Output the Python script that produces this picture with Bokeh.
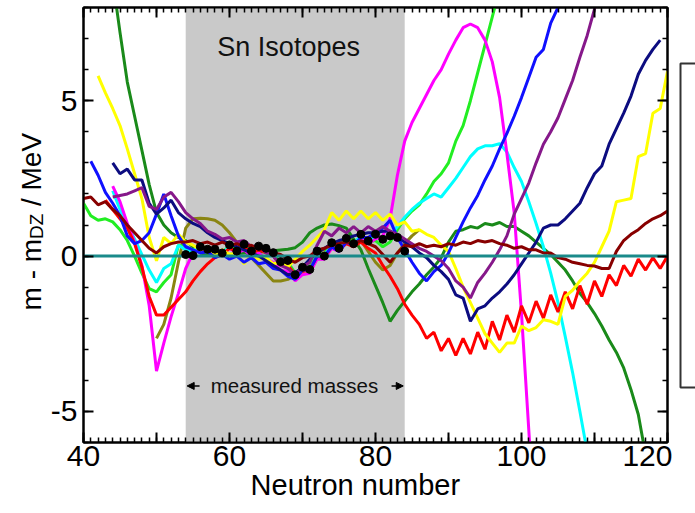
import math
from bokeh.plotting import figure
from bokeh.layouts import row
from bokeh.models import (Range1d, FixedTicker, LinearAxis, BoxAnnotation, Label,
                          Arrow, NormalHead)
from bokeh.embed import file_html
from bokeh.resources import INLINE
from bokeh.core.properties import value

# ---------------- data ----------------
meas_n = list(range(54, 85))
meas_v = [0.05, 0.02, 0.30, 0.22, 0.22, 0.10, 0.36, 0.16, 0.38, 0.16, 0.32, 0.25, 0.11,
          -0.18, -0.14, -0.60, -0.36, -0.43, 0.16, 0.00, 0.43, 0.25, 0.57, 0.40, 0.70,
          0.49, 0.70, 0.54, 0.65, 0.60, 0.16]

dkgreen_n = list(range(44, 59)) + [60, 62, 64, 66, 68] + list(range(69, 118))
dkgreen_v = [8.9, 7.2, 5.6, 4.5, 3.4, 2.3, 1.4, 1.0, 0.75, 0.6, 0.5, 0.3, 0.1, 0.05, 0.02,
             0.05, 0.1, 0.12, 0.17, 0.22,
             0.27, 0.45, 0.75, 0.9, 1.0, 1.03, 0.98, 0.9, 0.55, 0.2, -0.4, -0.95, -1.5, -2.1,
             -1.75, -1.45, -1.15, -0.9, -0.6, -0.35, -0.05, 0.45, 0.8, 0.85, 0.95, 0.9, 1.05,
             1.0, 1.08, 0.95, 0.95, 0.8, 0.65, 0.45, 0.25, 0.05, -0.2, -0.45, -0.8, -1.2, -1.5,
             -1.85, -2.25, -2.7, -3.1, -3.6, -4.3, -5.1, -6.4]

yellow_n = list(range(42, 121))
yellow_v = [5.8, 5.25, 4.75, 4.2, 3.45, 2.65, 1.85, 0.6, -0.15, 0.6,
            0.4, 0.7, 0.45, 0.35, 0.2, 0.3, 0.05, 0.2, 0.05, 0.1,
            -0.25, 0.05, -0.1, -0.05, -0.25, -0.2, -0.35, -0.1, 0.15, 0.35,
            0.6, 0.85, 1.4, 1.15, 1.45, 1.2, 1.45, 1.2, 1.4, 1.15,
            1.35, 1.0, 1.1, 0.8, 0.85, 0.7, 0.6, 0.35, 0.15, -0.4,
            -1.0, -1.5, -2.0, -2.5, -2.8, -3.1, -2.8, -2.8, -2.25, -2.4,
            -2.3, -2.05, -2.1, -2.2, -1.3, -1.1, -0.8, -0.55, -0.2, 0.3,
            0.8, 1.75, 1.8, 1.85, 3.2, 3.3, 4.6, 4.75, 5.95]

magenta_n = list(range(44, 103))
magenta_v = [2.25, 1.75, 1.05, 0.45, -0.3, -1.6, -3.7, -2.8, -1.95, -1.2,
             -0.4, 0.1, 0.2, 0.15, 0.15, 0.05, 0.25, 0.1, 0.2, 0.0,
             0.1, -0.1, -0.2, -0.45, -0.5, -0.8, -0.6, -0.55, -0.1, -0.1,
             0.25, 0.15, 0.45, 0.3, 0.55, 0.4, 0.55, 0.65, 1.2, 2.6,
             3.7, 4.3, 4.75, 5.2, 5.65, 6.0, 6.5, 6.95, 7.35, 7.47,
             7.35, 6.95, 6.25, 5.1, 3.3, 1.4, -1.85, -5.6, -9.4]

cyan_n = list(range(44, 110))
cyan_v = [2.1, 1.5, 1.0, 0.55, 0.05, -0.45, -0.85, -0.4, -0.25, 0.35,
          0.2, 0.15, 0.35, 0.2, 0.25, 0.1, 0.3, 0.1, 0.3, 0.1,
          0.25, 0.15, 0.0, -0.3, -0.3, -0.65, -0.45, -0.45, 0.05, 0.0,
          0.35, 0.25, 0.5, 0.4, 0.65, 0.5, 0.65, 0.55, 0.65, 0.95,
          1.25, 1.5, 1.7, 1.85, 2.0, 1.9, 2.2, 2.5, 2.85, 3.2,
          3.45, 3.55, 3.55, 3.62, 3.35, 2.85, 2.4, 1.75, 1.05, 0.3,
          -0.55, -1.5, -2.6, -3.75, -5.0, -6.3]

lime_n = list(range(40, 98))
lime_v = [1.7, 1.3, 1.15, 1.2, 1.1, 0.85, 0.5, 0.0, -0.55, -1.05,
          -1.15, -0.85, -0.6, 0.35, 0.3, 0.2, 0.3, 0.15, 0.2, 0.1,
          0.35, 0.2, 0.4, 0.2, 0.3, 0.2, 0.05, -0.2, -0.2, -0.55,
          -0.35, -0.35, 0.1, 0.05, 0.4, 0.3, 0.55, 0.45, 0.6, 0.45,
          0.5, 0.3, 0.45, 0.85, 1.2, 1.45, 1.65, 2.0, 2.4, 2.65,
          3.0, 3.7, 4.2, 5.0, 5.9, 6.8, 7.7, 8.6]

red_n = list(range(43, 121))
red_v = [1.8, 1.5, 1.2, 0.9, 0.4, -0.35, -1.3, -1.9, -1.9, -1.65,
         -1.4, -1.15, -0.8, -0.5, -0.25, -0.05, 0.05, 0.25, 0.15, 0.3,
         0.1, 0.2, 0.1, 0.0, -0.3, -0.3, -0.6, -0.5, -0.45, 0.0,
         -0.05, 0.3, 0.2, 0.4, 0.3, 0.45, 0.25, 0.1, -0.3, -0.65,
         -1.05, -1.55, -1.9, -2.2, -2.65, -2.45, -3.05, -2.65, -3.2, -2.65,
         -3.15, -2.45, -3.0, -2.1, -2.7, -1.9, -2.45, -1.6, -2.15, -1.45,
         -2.0, -1.25, -1.8, -1.15, -1.7, -0.95, -1.55, -0.8, -1.3, -0.6,
         -0.95, -0.3, -0.65, -0.1, -0.45, -0.05, -0.4, 0.0]

maroon_n = list(range(40, 121))
maroon_v = [1.85, 1.9, 1.65, 1.75, 1.5, 1.3, 1.0, 0.75, 0.5, 0.25,
            0.1, 0.3, 0.4, 0.45, 0.45, 0.5, 0.4, 0.45, 0.35, 0.45,
            0.35, 0.4, 0.3, 0.35, 0.2, 0.25, 0.1, 0.05, -0.1, -0.2,
            -0.05, 0.0, 0.2, 0.25, 0.35, 0.4, 0.45, 0.4, 0.5, 0.4,
            0.3, 0.05, -0.2, 0.1, 0.35, 0.3, 0.4, 0.3, 0.35, 0.3,
            0.4, 0.35, 0.45, 0.4, 0.5, 0.45, 0.5, 0.4, 0.35, 0.25,
            0.3, 0.2, 0.2, 0.1, 0.1, -0.05, -0.1, -0.2, -0.25, -0.3,
            -0.32, -0.4, -0.4, 0.15, 0.5, 0.7, 0.85, 1.05, 1.2, 1.3,
            1.45]

blue_n = list(range(41, 107))
blue_v = [3.05, 2.6, 2.05, 1.7, 1.3, 0.65, 0.4, 0.5, 0.75, 1.35,
          2.0, 1.3, 0.65, 0.3, 0.2, 0.1, 0.15, -0.05, 0.05, -0.1,
          0.0, -0.2, -0.05, -0.25, -0.2, -0.4, -0.45, -0.65, -0.75, -0.45,
          -0.45, 0.0, 0.0, 0.3, 0.15, 0.45, 0.35, 0.6, 0.6, 0.75,
          0.9, 1.15, 0.6, 0.2, -0.2, -0.55, -0.8, -0.5, -0.3, 0.1,
          0.6, 1.1, 1.55, 1.95, 2.45, 2.9, 3.45, 3.95, 4.5, 5.1,
          5.75, 6.4, 6.65, 7.5, 8.0, 8.6]

navy_n = list(range(44, 120))
navy_v = [3.0, 2.65, 2.8, 2.45, 2.45, 1.7, 1.35, 1.55, 1.8, 1.4,
          1.2, 1.05, 0.95, 0.75, 0.6, 0.5, 0.4, 0.3, 0.2, 0.1,
          0.0, -0.15, -0.3, -0.45, -0.6, -0.55, -0.35, -0.1, 0.1, 0.25,
          0.4, 0.5, 0.55, 0.65, 0.7, 0.75, 0.75, 0.8, 0.8, 0.6,
          0.45, 0.3, 0.1, -0.05, -0.3, -0.5, -0.75, -1.25, -1.35, -2.1,
          -1.7, -1.6, -1.35, -1.15, -0.9, -0.6, -0.25, 0.1, 0.45, 0.9,
          1.0, 1.0, 1.2, 1.45, 1.7, 2.2, 2.65, 2.9, 3.6, 4.1,
          4.6, 5.15, 5.85, 6.3, 6.65, 6.95]

purple_n = list(range(44, 112))
purple_v = [1.9, 1.95, 2.0, 2.1, 2.2, 1.6, 1.5, 1.9, 2.05, 1.75,
            1.4, 1.2, 1.05, 0.8, 0.7, 0.55, 0.6, 0.45, 0.5, 0.3,
            0.35, 0.1, 0.0, -0.3, -0.4, -0.6, -0.35, -0.2, 0.35, 0.8,
            0.65, 0.9, 0.75, 0.95, 0.75, 0.95, 0.8, 0.95, 0.8, 0.7,
            0.55, 0.4, 0.25, 0.15, 0.0, -0.15, -0.4, -0.8, -1.0, -1.35,
            -0.85, -0.55, -0.2, 0.2, 0.65, 1.35, 1.85, 2.35, 3.0, 3.6,
            4.0, 4.45, 5.05, 5.65, 6.4, 7.1, 7.95, 8.8]

olive_n = list(range(50, 87))
olive_v = [-2.65, -2.2, -1.35, -0.2, 0.9, 1.2, 1.22, 1.2, 1.15, 1.0,
           0.75, 0.45, 0.2, -0.05, -0.3, -0.55, -0.8, -0.8, -0.75, -0.6,
           -0.35, -0.15, 0.15, 0.2, 0.45, 0.4, 0.6, 0.5, 0.5, 0.15,
           -0.2, -0.45, -0.3, 0.1, 0.4, 0.65, 0.85]

ref_n = [40, 120]
ref_v = [0, 0]

x_ticks = [40, 50, 60, 70, 80, 90, 100, 110, 120]
x_tick_labels = {40: "40", 50: "", 60: "60", 70: "", 80: "80", 90: "", 100: "100", 110: "", 120: "120"}
y_ticks = [-5, 0, 5]
y_tick_labels = {-5: "-5", 0: "0", 5: "5"}

FONT = "Liberation Sans"
X0, X1 = 40, 120
Y0, Y1 = -6, 8

LEFT_W = 47      # strip holding the y title
MAIN_W = 625     # plot incl. its own borders
RIGHT_W = 23     # strip holding the (cut-off) legend frame


def strip(w, h, xr, yr, bl=0, br=0, bt=0, bb=0):
    f = figure(width=w, height=h, x_range=xr, y_range=yr,
               output_backend="svg", toolbar_location=None,
               x_axis_location=None, y_axis_location=None,
               min_border_left=bl, min_border_right=br, min_border_top=bt, min_border_bottom=bb,
               background_fill_color="white", border_fill_color="white")
    f.outline_line_color = None
    f.grid.visible = False
    f.title.visible = False
    return f


# ---------------- main plot ----------------
p = figure(width=MAIN_W, height=513, x_range=Range1d(X0, X1), y_range=Range1d(Y0, Y1),
           output_backend="svg", toolbar_location=None,
           min_border_left=36, min_border_right=5, min_border_top=7, min_border_bottom=71,
           background_fill_color="white", border_fill_color="white")
p.grid.visible = False
p.title.visible = False
p.outline_line_color = "black"
p.outline_line_width = 2

xt = FixedTicker(ticks=x_ticks, minor_ticks=list(range(40, 121)))
yt = FixedTicker(ticks=y_ticks, minor_ticks=list(range(-6, 9)))


def style(ax, show):
    ax.axis_line_width = 2
    ax.axis_line_color = "black"
    ax.major_tick_in = 10
    ax.major_tick_out = 0
    ax.minor_tick_in = 5
    ax.minor_tick_out = 0
    ax.major_tick_line_width = 2
    ax.minor_tick_line_width = 1.5
    ax.major_tick_line_color = "black"
    ax.minor_tick_line_color = "black"
    ax.major_label_text_font = FONT
    ax.major_label_text_color = "black"
    if show:
        ax.major_label_text_font_size = "30px"
    else:
        ax.major_label_text_font_size = "0px"
        ax.major_label_standoff = 0


p.xaxis.ticker = xt
p.yaxis.ticker = yt
style(p.xaxis[0], True)
style(p.yaxis[0], True)
p.xaxis.major_label_overrides = x_tick_labels
p.yaxis.major_label_overrides = y_tick_labels
p.xaxis.major_label_standoff = 3
p.yaxis.major_label_standoff = 6

# x title; trailing no-break spaces move its centre left, as in the original
p.xaxis.axis_label = "Neutron number" + "\u00a0" * 5
p.xaxis.axis_label_standoff = 0
p.xaxis.axis_label_text_font = FONT
p.xaxis.axis_label_text_font_size = "29px"
p.xaxis.axis_label_text_font_style = "normal"
p.xaxis.axis_label_text_color = "black"

top_ax = LinearAxis(ticker=xt, major_label_overrides={t: "" for t in x_ticks})
style(top_ax, False)
p.add_layout(top_ax, "above")
right_ax = LinearAxis(ticker=yt, major_label_overrides={t: "" for t in y_ticks})
style(right_ax, False)
p.add_layout(right_ax, "right")

band = BoxAnnotation(left=meas_n[0], right=meas_n[-1], fill_color="#c9c9c9", fill_alpha=1.0,
                     line_color=None, level="underlay")
p.add_layout(band)

series = [
    (olive_n, olive_v, "#8a8512"),
    (dkgreen_n, dkgreen_v, "#1a8a1a"),
    (lime_n, lime_v, "#22ee22"),
    (cyan_n, cyan_v, "#00ffff"),
    (magenta_n, magenta_v, "#ff00ff"),
    (red_n, red_v, "#ff0000"),
    (yellow_n, yellow_v, "#ffff00"),
    (blue_n, blue_v, "#1010ff"),
    (navy_n, navy_v, "#0c0c80"),
    (purple_n, purple_v, "#86188a"),
    (maroon_n, maroon_v, "#880000"),
]
for n, v, c in series:
    p.line(n, v, line_color=c, line_width=3)

p.line(ref_n, ref_v, line_color="#1a8a8a", line_width=3)
p.scatter(meas_n, meas_v, size=8, fill_color="black", line_color="black")

p.add_layout(Label(x=68.1, y=6.73, text="Sn Isotopes", text_align="center",
                   text_baseline="middle", text_font=FONT, text_font_size="27px",
                   text_color="#111111"))
p.add_layout(Label(x=68.9, y=-4.18, text="measured masses", text_align="center",
                   text_baseline="middle", text_font=FONT, text_font_size="20.5px",
                   text_color="#111111"))
p.add_layout(Arrow(end=NormalHead(size=7, fill_color="black", line_color="black"),
                   x_start=55.9, y_start=-4.18, x_end=54.2, y_end=-4.18,
                   line_width=1.5, line_color="black"))
p.add_layout(Arrow(end=NormalHead(size=7, fill_color="black", line_color="black"),
                   x_start=82.2, y_start=-4.18, x_end=83.8, y_end=-4.18,
                   line_width=1.5, line_color="black"))

# ---------------- y title strip (same vertical scale as the plot) ----------------
left = strip(LEFT_W, 513, Range1d(0, LEFT_W), Range1d(Y0, Y1), bt=7, bb=71)
left.text(x=[30.5], y=[-1.75], text=["m - m"], angle=math.pi / 2, text_align="left",
          text_baseline="middle", text_font=value(FONT), text_font_size=value("28px"),
          text_color="black")
left.text(x=[36], y=[0.55], text=["DZ"], angle=math.pi / 2, text_align="left",
          text_baseline="middle", text_font=value(FONT), text_font_size=value("19px"),
          text_color="black")
left.text(x=[30.5], y=[1.61], text=["/ MeV"], angle=math.pi / 2, text_align="left",
          text_baseline="middle", text_font=value(FONT), text_font_size=value("28px"),
          text_color="black")

# ---------------- legend frame strip (cut off at the right edge) ----------------
right = strip(RIGHT_W, 513, Range1d(0, RIGHT_W), Range1d(Y0, Y1), bt=7, bb=71)
right.quad(left=[8], right=[40], bottom=[-4.23], top=[6.2], fill_color=None,
           line_color="#333333", line_width=2)

layout = row(left, p, right)
open("out.html", "w").write(file_html(layout, INLINE, "Sn isotopes"))
